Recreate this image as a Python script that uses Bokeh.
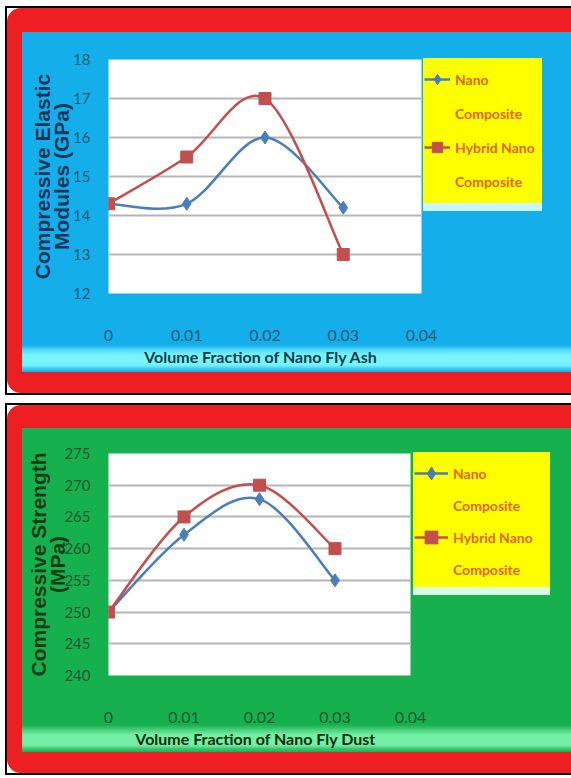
from bokeh.plotting import figure
from bokeh.layouts import column
from bokeh.models import Legend, LegendItem, FixedTicker, NumeralTickFormatter, Range1d
from bokeh.embed import file_html
from bokeh.resources import INLINE

# ---------------- data ----------------
volume_fraction = [0.0, 0.01, 0.02, 0.03]
x_ticks = [0.0, 0.01, 0.02, 0.03, 0.04]

elastic_nano = [14.3, 14.3, 16.0, 14.2]
elastic_hybrid = [14.3, 15.5, 17.0, 13.0]
elastic_ticks = [12, 13, 14, 15, 16, 17, 18]

strength_nano = [250.0, 262.2, 267.8, 255.0]
strength_hybrid = [250.0, 265.0, 270.0, 260.0]
strength_ticks = [240, 245, 250, 255, 260, 265, 270, 275]

# legend text, one row per line (marker shown on the first row of each series)
legend_rows = [["Nano", "Composite"], ["Hybrid Nano", "Composite"]]

# ---------------- styling ----------------
FONT = "Lato"
TITLE_FONT = "Liberation Sans"
NANO_COLOR = "#4a7ebb"
HYBRID_COLOR = "#c0504d"
LEGEND_TEXT = "#e8640c"


def smooth_segments(xs, ys):
    """Cubic Bezier pieces through the points (Catmull-Rom tangents)."""
    n = len(xs)
    seg = dict(x0=[], y0=[], x1=[], y1=[], cx0=[], cy0=[], cx1=[], cy1=[])
    for i in range(n - 1):
        xp, yp = (xs[i - 1], ys[i - 1]) if i > 0 else (xs[i], ys[i])
        xn, yn = (xs[i + 2], ys[i + 2]) if i + 2 < n else (xs[i + 1], ys[i + 1])
        seg["x0"].append(xs[i]); seg["y0"].append(ys[i])
        seg["x1"].append(xs[i + 1]); seg["y1"].append(ys[i + 1])
        seg["cx0"].append(xs[i] + (xs[i + 1] - xp) / 6.0)
        seg["cy0"].append(ys[i] + (ys[i + 1] - yp) / 6.0)
        seg["cx1"].append(xs[i + 1] - (xn - xs[i]) / 6.0)
        seg["cy1"].append(ys[i + 1] - (yn - ys[i]) / 6.0)
    return seg


def panel_background(size, base, strip, legend_box, shadow_color):
    """CSS layers: yellow legend box, its light shadow, the glossy bottom strip."""
    w, h = size
    lx, ly, lw, lh = legend_box
    return (f"linear-gradient(#ffff00, #ffff00) {lx}px {ly}px / {lw}px {lh}px no-repeat, "
            f"linear-gradient({shadow_color}, {shadow_color}) {lx}px {ly + lh}px / {lw}px 8px no-repeat, "
            f"linear-gradient(to bottom, {base} 0px, {base} {h - 27}px, {strip[0]} {h - 22}px, "
            f"{strip[1]} {h - 17}px, {strip[1]} {h - 7}px, {strip[2]} {h - 3}px, {base} {h}px)")


def make_panel(size, frame, panel_bg, y_ticks, nano, hybrid, y_title, x_title,
               tick_color, title_color, ytitle_color, ytitle_standoff, legend_spec):
    width, height = size
    left, top, fw, fh = frame
    p = figure(frame_width=fw, frame_height=fh, title=None,
               output_backend="svg", toolbar_location=None,
               x_range=Range1d(x_ticks[0], x_ticks[-1]),
               y_range=Range1d(y_ticks[0], y_ticks[-1]),
               min_border_left=left, min_border_right=width - left - fw,
               min_border_top=top, min_border_bottom=height - top - fh)
    # transparent surround so the coloured panel (CSS background) shows through
    p.border_fill_alpha = 0.0
    p.background_fill_color = "white"
    p.outline_line_color = None
    p.styles = {"background": panel_bg}

    # axes
    p.xaxis.ticker = FixedTicker(ticks=x_ticks)
    p.xaxis.formatter = NumeralTickFormatter(format="0.[00]")
    p.yaxis.ticker = FixedTicker(ticks=y_ticks)
    for ax, standoff, fsize in ((p.xaxis, 30, "16px"), (p.yaxis, 12, "15px")):
        ax.axis_line_color = None
        ax.major_tick_line_color = None
        ax.minor_tick_line_color = None
        ax.major_label_standoff = standoff
        ax.major_label_text_font = FONT
        ax.major_label_text_font_size = fsize
        ax.major_label_text_color = tick_color

    p.xaxis.axis_label = x_title
    p.xaxis.axis_label_standoff = 3
    p.xaxis.axis_label_text_font = FONT
    p.xaxis.axis_label_text_font_style = "bold"
    p.xaxis.axis_label_text_font_size = "16px"
    p.xaxis.axis_label_text_color = title_color

    p.yaxis.axis_label = y_title
    p.yaxis.axis_label_standoff = ytitle_standoff
    p.yaxis.axis_label_text_font = TITLE_FONT
    p.yaxis.axis_label_text_font_style = "bold"
    p.yaxis.axis_label_text_font_size = "21px"
    p.yaxis.axis_label_text_line_height = 0.85
    p.yaxis.axis_label_text_color = ytitle_color

    p.xgrid.visible = False
    p.ygrid.ticker = FixedTicker(ticks=y_ticks)
    p.ygrid.grid_line_color = "#b5b5b5"
    p.ygrid.grid_line_width = 2

    # series
    renderers = []
    for ys, color, marker, size_px in ((nano, NANO_COLOR, "diamond", 13),
                                       (hybrid, HYBRID_COLOR, "square", 12)):
        curve = p.bezier(line_color=color, line_width=2.5,
                         **smooth_segments(volume_fraction, ys))
        pts = p.scatter(volume_fraction, ys, marker=marker, size=size_px,
                        fill_color=color, line_color=color)
        renderers.append([curve, pts])

    items = []
    for rows, rs in zip(legend_rows, renderers):
        items.append(LegendItem(label=rows[0], renderers=rs))
        for extra in rows[1:]:
            items.append(LegendItem(label=extra, renderers=[]))
    row_h, gap, gap_frame, glyph_w = legend_spec
    legend = Legend(items=items, location="top_left",
                    margin=gap_frame, padding=0, spacing=gap,
                    glyph_width=glyph_w, glyph_height=row_h, label_height=row_h,
                    label_standoff=5, label_text_font=FONT,
                    label_text_font_style="bold", label_text_font_size="14px",
                    label_text_color=LEGEND_TEXT,
                    background_fill_alpha=0.0, border_line_color=None)
    p.add_layout(legend, "right")
    return p


def card(p, pad, top_gap):
    """Red rounded card with a square black rule around it."""
    red = column(p, styles={"background-color": "#ee1f23", "border-radius": "14px",
                            "padding": pad, "box-sizing": "content-box"})
    return column(red, styles={"border": "2px solid #000", "background-color": "white",
                               "margin": f"{top_gap}px 0 0 5px",
                               "box-sizing": "content-box"})


TOP_SIZE = (533, 340)
BOTTOM_SIZE = (533, 324)

p_top = make_panel(
    size=TOP_SIZE, frame=(86, 27, 313, 234),
    panel_bg=panel_background(TOP_SIZE, "#14aeea", ("#55d8f7", "#76f4ff", "#3cc6ee"),
                              (401, 26, 119, 145), "#c8f6ff"),
    y_ticks=elastic_ticks, nano=elastic_nano, hybrid=elastic_hybrid,
    y_title="Compressive Elastic\nModules (GPa)",
    x_title="Volume Fraction of Nano  Fly  Ash",
    tick_color="#1d5a7a", title_color="#0b4048", ytitle_color="#16365a",
    ytitle_standoff=-3, legend_spec=(34, 0, 3, 26))

p_bottom = make_panel(
    size=BOTTOM_SIZE, frame=(86, 25, 302, 222),
    panel_bg=panel_background(BOTTOM_SIZE, "#17b04f", ("#4cd07f", "#74f0a4", "#3cc070"),
                              (391, 24, 137, 135), "#d6ffe6"),
    y_ticks=strength_ticks, nano=strength_nano, hybrid=strength_hybrid,
    y_title="Compressive Strength\n(MPa)",
    x_title="Volume Fraction of Nano  Fly  Dust",
    tick_color="#1d5a2a", title_color="#0a2e0e", ytitle_color="#0d3d14",
    ytitle_standoff=-8, legend_spec=(32, 0, 4, 34))

layout = column(card(p_top, "24px 11px 21px 15px", 6),
                card(p_bottom, "23px 11px 21px 15px", 8), spacing=0)
open("out.html", "w").write(file_html(layout, INLINE, title="Compressive properties"))
